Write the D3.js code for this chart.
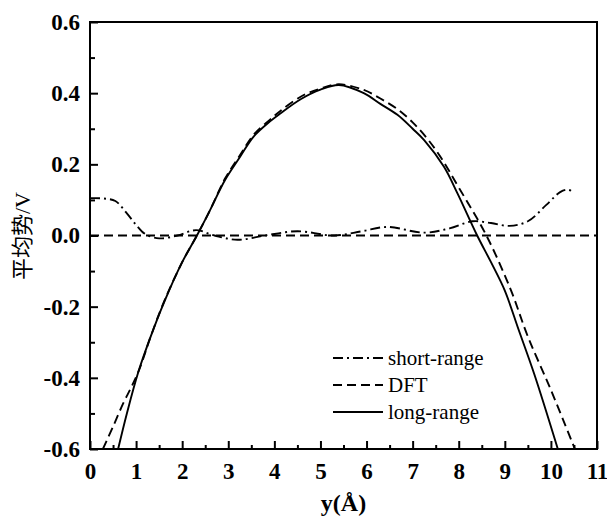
<!DOCTYPE html>
<html><head><meta charset="utf-8">
<script src="https://cdn.jsdelivr.net/npm/d3@7"></script>
<style>body{margin:0;background:#fff}svg{display:block}</style>
</head><body>
<svg id="c" width="607" height="522"></svg>
<script>
const xTicks=[0,1,2,3,4,5,6,7,8,9,10,11];
const yTicks=[-0.6,-0.4,-0.2,0.0,0.2,0.4,0.6];
const seriesNames=["short-range","DFT","long-range"];
const shortRange=[[0,0.105],[0.3,0.104],[0.55,0.097],[0.8,0.062],[1.0,0.03],[1.2,0.004],[1.5,-0.008],[1.9,0.0],[2.3,0.015],[2.7,0.0],[3.2,-0.012],[3.8,0.0],[4.5,0.012],[5.3,0.0],[5.9,0.012],[6.45,0.024],[7.25,0.008],[7.8,0.02],[8.3,0.04],[8.7,0.035],[9.1,0.027],[9.5,0.04],[9.9,0.086],[10.2,0.122],[10.35,0.129],[10.45,0.125]];
const dft=[[0.28,-0.6],[0.5,-0.537],[0.72,-0.472],[0.9,-0.425],[1.08,-0.373],[1.3,-0.29],[1.6,-0.188],[2.0,-0.075],[2.32,0.0],[2.6,0.07],[2.93,0.16],[3.25,0.225],[3.55,0.283],[3.9,0.325],[4.13,0.35],[4.57,0.39],[5.0,0.413],[5.4,0.425],[5.94,0.409],[6.3,0.385],[6.67,0.355],[7.0,0.318],[7.3,0.275],[7.61,0.22],[8.0,0.135],[8.6,0.0],[9.13,-0.153],[9.5,-0.284],[10.0,-0.434],[10.52,-0.6]];
const longRange=[[0.61,-0.6],[0.8,-0.5],[1.04,-0.387],[1.3,-0.29],[1.6,-0.19],[2.0,-0.075],[2.32,0.0],[2.6,0.07],[2.93,0.156],[3.25,0.22],[3.55,0.278],[3.9,0.32],[4.13,0.343],[4.57,0.383],[5.0,0.41],[5.4,0.423],[5.94,0.40],[6.3,0.37],[6.67,0.339],[7.0,0.30],[7.25,0.268],[7.68,0.193],[7.97,0.119],[8.4,0.0],[8.7,-0.075],[9.0,-0.155],[9.3,-0.265],[9.64,-0.39],[10.15,-0.6]];
const zeroLine=[[0,0],[11,0]];
const xLabel="y(Å)";
const yLabel="平均势/V";

const m={l:90,r:597,t:22,b:449};
const svg=d3.select("#c");
const x=d3.scaleLinear().domain([0,11]).range([m.l,m.r]);
const y=d3.scaleLinear().domain([-0.6,0.6]).range([m.b,m.t]);
const serif="'Liberation Serif','Noto Sans CJK SC',serif";

svg.append("clipPath").attr("id","clip").append("rect")
  .attr("x",m.l).attr("y",m.t).attr("width",m.r-m.l).attr("height",m.b-m.t);

const line=d3.line().x(d=>x(d[0])).y(d=>y(d[1])).curve(d3.curveCatmullRom.alpha(0.5));
const styles={"short-range":{dash:"10,4,2,4"},"DFT":{dash:"9,5"},"long-range":{dash:null}};
const g=svg.append("g").attr("clip-path","url(#clip)");
g.append("path").datum(zeroLine).attr("d",d3.line().x(d=>x(d[0])).y(d=>y(d[1])))
  .attr("fill","none").attr("stroke","#000").attr("stroke-width",1.8).attr("stroke-dasharray","9,5");
[[shortRange,"short-range"],[dft,"DFT"],[longRange,"long-range"]].forEach(([data,name])=>{
  g.append("path").datum(data).attr("d",line).attr("fill","none")
   .attr("stroke","#000").attr("stroke-width",1.9)
   .attr("stroke-dasharray",styles[name].dash);
});

// axes
const xAxis=d3.axisBottom(x).tickValues(xTicks).tickSize(-8).tickPadding(14).tickFormat(d=>String(d));
const xMinor=d3.axisBottom(x).tickValues(d3.range(0.5,11,1)).tickSize(-4).tickFormat("");
const yAxis=d3.axisLeft(y).tickValues(yTicks).tickSize(-8).tickPadding(10).tickFormat(d=>(Math.abs(d)<1e-9?0:d).toFixed(1));
const yMinor=d3.axisLeft(y).tickValues([-0.5,-0.3,-0.1,0.1,0.3,0.5]).tickSize(-5).tickFormat("");
function styleAx(sel){
  sel.attr("font-family",null).attr("font-size",null);
  sel.select(".domain").remove();
  sel.selectAll("line").attr("stroke","#000").attr("stroke-width",2);
  sel.selectAll("text").style("font-family",serif).style("font-weight","bold").style("font-size","23px").attr("fill","#000");
}
svg.append("g").attr("transform",`translate(0,${m.b})`).call(xAxis).call(styleAx);
svg.append("g").attr("transform",`translate(0,${m.b})`).call(xMinor).call(styleAx);
svg.append("g").attr("transform",`translate(${m.l},0)`).call(yAxis).call(styleAx);
svg.append("g").attr("transform",`translate(${m.l},0)`).call(yMinor).call(styleAx);

svg.append("rect").attr("x",m.l).attr("y",m.t).attr("width",m.r-m.l).attr("height",m.b-m.t)
  .attr("fill","none").attr("stroke","#000").attr("stroke-width",2);

svg.append("text").attr("x",(m.l+m.r)/2).attr("y",511).attr("text-anchor","middle")
  .style("font-family",serif).style("font-weight","bold").style("font-size","24px").attr("fill","#000").text(xLabel);
svg.append("text").attr("transform","translate(30,236) rotate(-90)").attr("text-anchor","middle")
  .style("font-family",serif).style("font-size","22px").attr("fill","#000").text(yLabel);

// legend
const lg=svg.append("g");
const ly=[358,385,412];
seriesNames.forEach((n,i)=>{
  lg.append("line").attr("x1",333).attr("x2",383).attr("y1",ly[i]).attr("y2",ly[i])
    .attr("stroke","#000").attr("stroke-width",1.9).attr("stroke-dasharray",styles[n].dash);
  lg.append("text").attr("x",388).attr("y",ly[i]+7).style("font-family",serif)
    .style("font-size","21px").attr("fill","#000").text(n);
});
</script>
</body></html>
